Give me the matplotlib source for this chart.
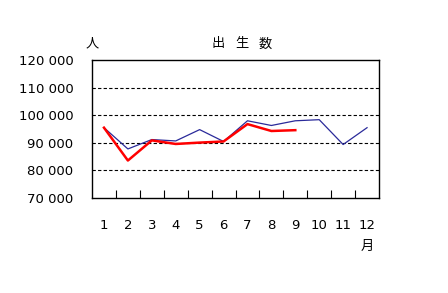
import matplotlib
matplotlib.use("Agg")
import matplotlib.pyplot as plt
import numpy as np

plt.rcParams['font.family'] = ['DejaVu Sans', 'Noto Sans CJK JP']

months = ['1', '2', '3', '4', '5', '6', '7', '8', '9', '10', '11', '12']
prev_year = [95500, 87800, 91200, 90700, 94800, 90500, 98000, 96300, 98000, 98400, 89400, 95500]
this_year = [95500, 83600, 90900, 89600, 90100, 90500, 96800, 94300, 94600]
yticks = [70000, 80000, 90000, 100000, 110000, 120000]
ylabels = ['70 000', '80 000', '90 000', '100 000', '110 000', '120 000']
title_chars = ['出', '生', '数']

fig = plt.figure(figsize=(4.48, 2.93), dpi=100)
ax = fig.add_axes([0.2054, 0.324, 0.6406, 0.471])

x = np.arange(len(months))
ax.plot(x, prev_year, color='#2a2a9a', lw=0.9, zorder=3)
ax.plot(x[:len(this_year)], this_year, color='#ff0000', lw=1.8, zorder=4)

ax.set_xlim(-0.5, 11.5)
ax.set_ylim(70000, 120000)

for v in yticks[1:-1]:
    ax.axhline(v, color='black', lw=0.8, ls=(0, (3, 2)), zorder=1)

ax.set_yticks(yticks)
ax.set_yticklabels(ylabels, fontsize=9.5)
ax.tick_params(axis='y', length=0, pad=13.5)

ax.set_xticks(np.arange(0.5, 11, 1))
ax.set_xticklabels([])
ax.tick_params(axis='x', which='major', direction='in', length=6, width=0.8)
ax.set_xticks(x, minor=True)
ax.set_xticklabels(months, minor=True, fontsize=9.5)
ax.tick_params(axis='x', which='minor', length=0, pad=15)

for s in ax.spines.values():
    s.set_linewidth(1.0)

# title characters spaced out like the original
for i, ch in enumerate(title_chars):
    fig.text((218 + 23.5 * i) / 448, 1 - 44 / 293, ch, ha='center', va='center',
             fontsize=9.5, family=['Noto Sans CJK JP'])
fig.text(92 / 448, 1 - 44 / 293, '人', ha='center', va='center',
         fontsize=9.5, family=['Noto Sans CJK JP'])
fig.text(367 / 448, 1 - 246 / 293, '月', ha='center', va='center',
         fontsize=9.5, family=['Noto Sans CJK JP'])

fig.savefig('out.png', dpi=100)
